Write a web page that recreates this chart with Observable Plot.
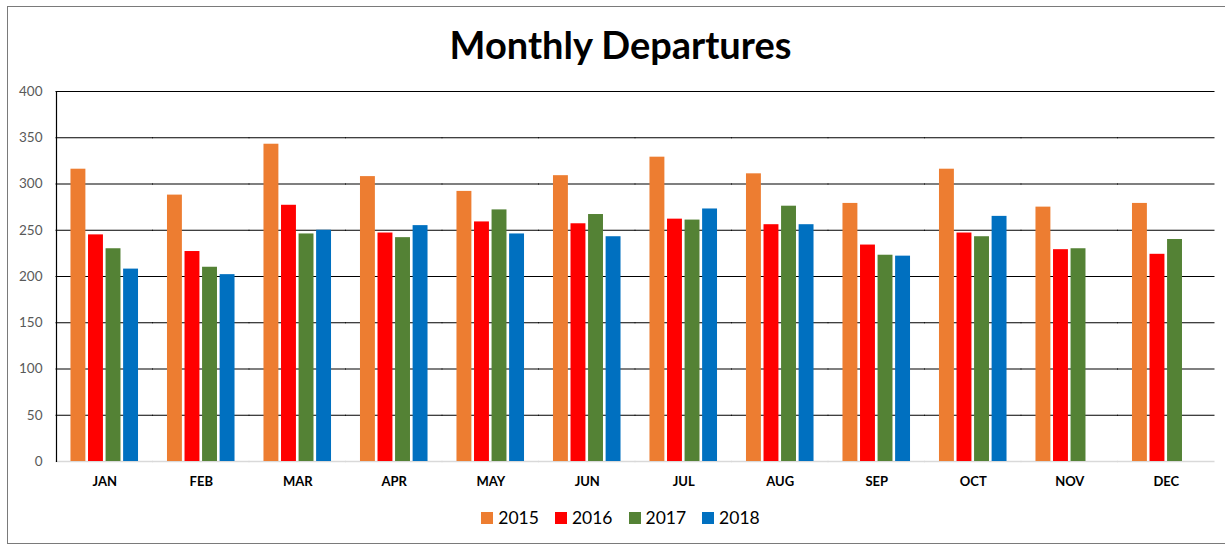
<!DOCTYPE html>
<html>
<head>
<meta charset="utf-8">
<script src="https://cdn.jsdelivr.net/npm/d3@7"></script>
<script src="https://cdn.jsdelivr.net/npm/@observablehq/plot@0.6"></script>
<style>
  html, body { margin: 0; padding: 0; background: #fff; }
  body { width: 1225px; height: 546px; position: relative; overflow: hidden; font-family: Lato, "Open Sans", sans-serif; }
  #frame { position: absolute; left: 7px; top: 6px; width: 1240px; height: 538px; border: 1px solid #7a7a7a; box-sizing: border-box; }
  #title { position: absolute; left: 0; width: 1241px; top: 21.5px; text-align: center; font-weight: 700; font-size: 38px; line-height: 1.2; color: #000; }
  #chart { position: absolute; left: 0; top: 80px; }
  #legend { position: absolute; left: 0; width: 1241px; top: 507px; display: flex; justify-content: center; gap: 16px; font-size: 17.5px; line-height: 1.2; color: #000; }
  .item { display: flex; align-items: center; gap: 5px; }
  .sw { width: 12px; height: 12px; display: inline-block; }
</style>
</head>
<body>
<div id="frame"></div>
<div id="title">Monthly Departures</div>
<div id="chart"></div>
<div id="legend"></div>
<script>
const months = ["JAN","FEB","MAR","APR","MAY","JUN","JUL","AUG","SEP","OCT","NOV","DEC"];
const years = ["2015","2016","2017","2018"];
const v2015 = [316,288,343,308,292,309,329,311,279,316,275,279];
const v2016 = [245,227,277,247,259,257,262,256,234,247,229,224];
const v2017 = [230,210,246,242,272,267,261,276,223,243,230,240];
const v2018 = [208,202,250,255,246,243,273,256,222,265,null,null];
const colors = ["#ED7D31","#FF0000","#548235","#0070C0"];
const yTicks = [0,50,100,150,200,250,300,350,400];

const series = [v2015, v2016, v2017, v2018];
const table = [];
months.forEach((m, i) => {
  years.forEach((y, j) => {
    const v = series[j][i];
    if (v != null) table.push({month: m, year: y, value: v});
  });
});

// half of the gap between month groups, so grid lines meet across facets
const padInner = 0.3, padOuter = 0.15;
const plotW = 1225 - 56 - 11;
const step = plotW / (months.length - padInner + 2 * padOuter);
const half = step * padOuter;

const plot = Plot.plot({
  width: 1225,
  height: 430,
  marginLeft: 56,
  marginRight: 11,
  marginTop: 11,
  marginBottom: 49,
  style: {fontFamily: "Lato, 'Open Sans', sans-serif", background: "transparent", overflow: "visible"},
  fx: {domain: months, paddingInner: padInner, paddingOuter: padOuter, round: false, label: null, axis: null},
  x: {domain: years, paddingInner: 0.15, paddingOuter: 0, round: false, axis: null},
  y: {domain: [0, 400], label: null, axis: null},
  color: {domain: years, range: colors},
  marks: [
    Plot.ruleY(yTicks.filter(d => d > 0), {stroke: "#000", strokeWidth: 1.2, insetLeft: -half - 0.5, insetRight: -half - 0.5}),
    Plot.ruleY([0], {stroke: "#d9d9d9", strokeWidth: 1.5, insetLeft: -half - 0.5, insetRight: -half - 0.5}),
    Plot.barY(table, {fx: "month", x: "year", y: "value", fill: "year"}),
    Plot.axisY({ticks: yTicks, tickSize: 0, tickPadding: 14, dx: -half, fontSize: 13.5, fill: "#595959", label: null}),
    Plot.axisFx({domain: months, anchor: "bottom", tickSize: 0, tickPadding: 15, fontSize: 13, fontWeight: "bold", fill: "#000", label: null}),
    Plot.frame({anchor: "left", facetAnchor: "left", dx: -half, stroke: "#000", strokeWidth: 1.2})
  ]
});
document.getElementById("chart").appendChild(plot);

const legend = document.getElementById("legend");
years.forEach((y, j) => {
  const it = document.createElement("div");
  it.className = "item";
  const sw = document.createElement("span");
  sw.className = "sw";
  sw.style.background = colors[j];
  const t = document.createElement("span");
  t.textContent = y;
  it.appendChild(sw);
  it.appendChild(t);
  legend.appendChild(it);
});
</script>
</body>
</html>
